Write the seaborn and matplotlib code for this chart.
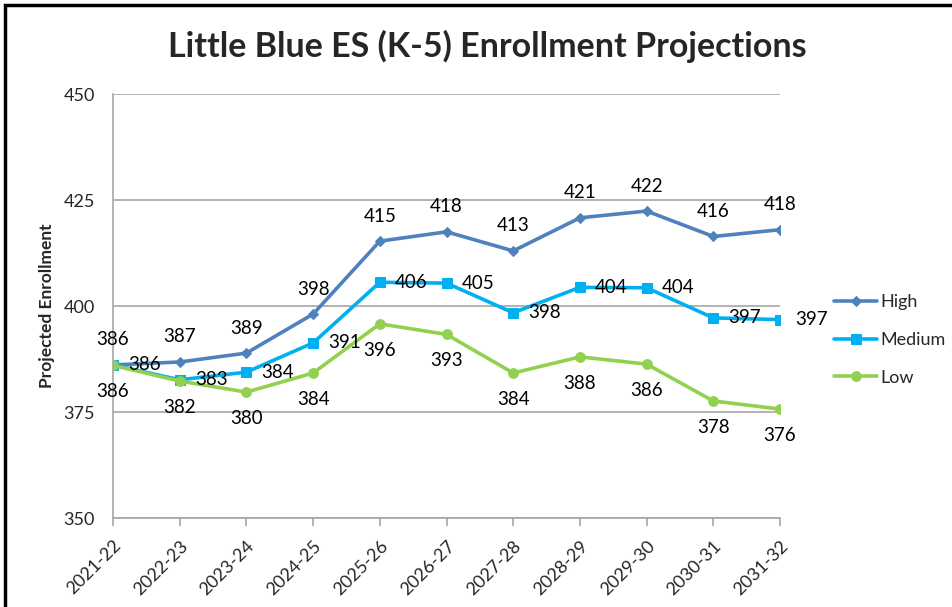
import seaborn as sns
import matplotlib.pyplot as plt
import pandas as pd
from matplotlib.patches import Rectangle

years = ['2021-22', '2022-23', '2023-24', '2024-25', '2025-26', '2026-27',
         '2027-28', '2028-29', '2029-30', '2030-31', '2031-32']
high = [386.1, 386.8, 388.9, 398.1, 415.3, 417.5, 413.0, 420.8, 422.4, 416.4, 418.0]
medium = [386.1, 382.6, 384.4, 391.3, 405.6, 405.4, 398.4, 404.4, 404.3, 397.2, 396.8]
low = [386.0, 382.3, 379.7, 384.2, 395.8, 393.3, 384.2, 388.0, 386.3, 377.6, 375.7]

df = pd.DataFrame({'Year': years, 'High': high, 'Medium': medium, 'Low': low})
df = df.melt(id_vars='Year', var_name='Scenario', value_name='Enrollment')

sns.set_style('white')
plt.rcParams['font.family'] = ['Lato', 'DejaVu Sans']

colors = {'High': '#4F81BD', 'Medium': '#00B0F0', 'Low': '#92D050'}
markers = {'High': 'D', 'Medium': 's', 'Low': 'o'}
msizes = {'High': 5, 'Medium': 7, 'Low': 7}
# label offsets in points: High above, Medium right, Low below
offsets = {'High': ((0, 18), 'center', 'center'),
           'Medium': ((11, 0), 'left', 'center'),
           'Low': ((0, -19), 'center', 'center')}

fig = plt.figure(figsize=(9.53, 6.07), dpi=100)
ax = fig.add_axes([0.1186, 0.1466, 0.6999, 0.6985])

for name in ['High', 'Medium', 'Low']:
    sub = df[df['Scenario'] == name]
    sns.lineplot(data=sub, x='Year', y='Enrollment', color=colors[name],
                 marker=markers[name], markersize=msizes[name],
                 markeredgecolor=colors[name], linewidth=2.6,
                 label=name, ax=ax, sort=False)
    off, ha, va = offsets[name]
    for i, v in enumerate(sub['Enrollment']):
        ax.annotate(f'{v:.0f}', xy=(i, v), xytext=off, textcoords='offset points',
                    ha=ha, va=va, fontsize=13.5, color='black')

ax.set_xlim(0, len(years) - 1)
ax.set_ylim(350, 450)
ax.set_yticks([350, 375, 400, 425, 450])
ax.grid(axis='y', color='#A6A6A6', linewidth=1.2)
ax.grid(axis='x', visible=False)
for s in ['top', 'right']:
    ax.spines[s].set_visible(False)
for s in ['left', 'bottom']:
    ax.spines[s].set_color('#A6A6A6')
    ax.spines[s].set_linewidth(1.2)

ax.tick_params(axis='y', length=0, pad=13, labelsize=13)
ax.tick_params(axis='x', bottom=True, length=6, width=1.2, color='#A6A6A6',
               direction='out', pad=8, labelsize=13)
ax.set_xticks(range(len(years)))
ax.set_xticklabels(years, rotation=45, ha='right', rotation_mode='anchor')

ax.set_xlabel('')
ax.set_ylabel('Projected Enrollment', fontsize=12.5, fontweight='bold', labelpad=6)

fig.text(0.511, 0.924, 'Little Blue ES (K-5) Enrollment Projections',
         ha='center', va='center', fontsize=24.5, fontweight='bold')

leg = ax.legend(loc='center left', bbox_to_anchor=(0.858, 0.44),
                bbox_transform=fig.transFigure, frameon=False, fontsize=13,
                handlelength=2.4, handletextpad=0.2, labelspacing=1.2)

# chart border
fig.patches.append(Rectangle((0.0055, -0.2), 1.3, 1.2 - 0.0085, transform=fig.transFigure,
                             fill=False, edgecolor='black', linewidth=2.5, clip_on=False))

fig.savefig('out.png', dpi=100, facecolor='white')
